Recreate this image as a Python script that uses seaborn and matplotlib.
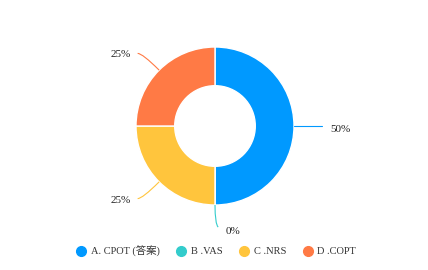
import numpy as np
import matplotlib
matplotlib.use("Agg")
import matplotlib.pyplot as plt
from matplotlib.lines import Line2D
from matplotlib.path import Path
from matplotlib.patches import PathPatch
import seaborn as sns

categories = ["A. CPOT (答案)", "B .VAS", "C .NRS", "D .COPT"]
values = [50, 0, 25, 25]
labels = ["50%", "0%", "25%", "25%"]
colors = ["#0099FF", "#33CCCC", "#FFC53D", "#FF7A45"]

sns.set_theme(style="white")
plt.rcParams["font.family"] = ["Liberation Serif", "Noto Sans CJK SC"]

W, H = 428, 270
fig = plt.figure(figsize=(W / 100, H / 100), dpi=100)
ax = fig.add_axes([0, 0, 1, 1])
R = 79.0
cx, cy = 215.0, 126.0

wedges, _ = ax.pie(values, colors=colors, startangle=90, counterclock=False,
                   radius=1.0, wedgeprops=dict(width=0.49, edgecolor="white", linewidth=1.0))
ax.set_xlim(-cx / R, (W - cx) / R)
ax.set_ylim(-(H - cy) / R, cy / R)
ax.set_aspect("equal")
ax.axis("off")

for w, lab, col in zip(wedges, labels, colors):
    ang = np.deg2rad((w.theta1 + w.theta2) / 2)
    c, s = np.cos(ang), np.sin(ang)
    p0 = np.array([c, s]) * 1.0
    if abs(s) < 0.3:
        p1 = np.array([c, s]) * 1.2
        p2 = p1 + np.array([np.sign(c) * 0.16, 0])
        ax.plot([p0[0], p2[0]], [p0[1], p2[1]], color=col, lw=0.8)
        ax.text(p2[0] + np.sign(c) * 0.1, p2[1] - 0.04, lab, fontsize=8,
                ha="left" if c > 0 else "right", va="center", color="#222222")
    elif abs(c) < 0.3:
        p1 = p0 + np.array([0, -0.24])
        p2 = p1 + np.array([0.04, -0.04])
        path = Path([p0, p1, p2], [Path.MOVETO, Path.CURVE3, Path.CURVE3])
        ax.add_patch(PathPatch(path, fc="none", ec=col, lw=0.8))
        ax.text(p2[0] + 0.1, p2[1] - 0.05, lab, fontsize=8, ha="left", va="center",
                color="#222222")
    else:
        p1 = np.array([c, s]) * 1.3
        p2 = p1 + np.array([np.sign(c) * 0.06, 0])
        path = Path([p0, p1, p2], [Path.MOVETO, Path.CURVE3, Path.CURVE3])
        ax.add_patch(PathPatch(path, fc="none", ec=col, lw=0.8))
        ax.text(p2[0] + np.sign(c) * 0.09, p2[1] - 0.02, lab, fontsize=8,
                ha="left" if c > 0 else "right", va="center", color="#222222")

handles = [Line2D([0], [0], marker="o", linestyle="none", markersize=7,
                  markerfacecolor=col, markeredgecolor=col) for col in colors]
fig.legend(handles, categories, loc="center", bbox_to_anchor=(0.505, (H - 251) / H),
           ncol=4, frameon=False, fontsize=7.5, handletextpad=0.4, columnspacing=1.6,
           handlelength=1.0, labelcolor="#333333")

fig.savefig("out.png", dpi=100)
